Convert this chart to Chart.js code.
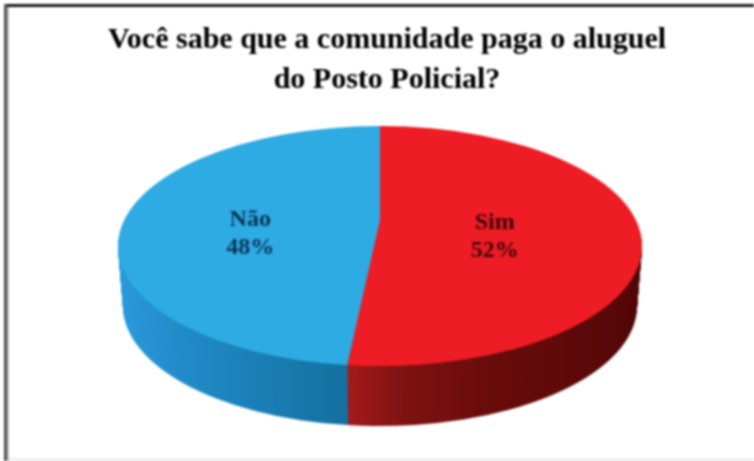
<!DOCTYPE html>
<html>
<head>
<meta charset="utf-8">
<script src="https://cdn.jsdelivr.net/npm/chart.js@4"></script>
<style>
    html, body { margin: 0; padding: 0; background: #fff; }
    #pie { display: block; filter: blur(0.8px); }
</style>
</head>
<body>
<canvas id="pie" width="754" height="461"></canvas>
<script>
// Chart values
const categories = ['Sim', 'Não'];
const seriesValues = [52, 48];
const titleLines = ['Você sabe que a comunidade paga o aluguel', 'do Posto Policial?'];
const topColors = ['#ee1c24', '#2dabe2'];
const labelColors = ['#3f060a', '#0a3558'];

// Side wall shading, left to right across the pie
const wallStops = [
    [[0.44, '#a31a1a'], [0.55, '#7d1212'], [0.7, '#6a0c0c'], [0.9, '#5c0909'], [1, '#500606']],
    [[0, '#2a98dc'], [0.15, '#1f88c4'], [0.44, '#14709f']]
];

// Where the squashed pie goes on the page
const pieX = 380, pieY = 246, pieW = 262, pieH = 120, pieDepth = 60;
const wallShrink = 5;   // the lower rim is a little narrower than the top
const apexLift = 26;    // perspective: the slices meet above the middle of the ellipse

// Draw the library's arcs flattened into an ellipse, with a stacked side wall
const pie3d = {
    id: 'pie3d',
    beforeDatasetsDraw(chart) {
        const ctx = chart.ctx;
        const arcs = chart.getDatasetMeta(0).data;
        const first = arcs[0];
        const R = first.outerRadius;

        function place(dy, w) {
            ctx.translate(pieX, pieY + dy);
            ctx.scale(w / R, pieH / R);
            ctx.translate(-first.x, -first.y);
        }

        const walls = arcs.map(function (arc, i) {
            const g = ctx.createLinearGradient(first.x - R, 0, first.x + R, 0);
            wallStops[i].forEach(function (s) { g.addColorStop(s[0], s[1]); });
            return g;
        });

        for (let d = pieDepth; d >= 1; d--) {
            arcs.forEach(function (arc, i) {
                const realOptions = arc.options;
                const wallOptions = Object.create(realOptions);
                wallOptions.backgroundColor = walls[i];
                wallOptions.borderColor = walls[i];
                arc.options = wallOptions;
                ctx.save();
                place(d, pieW - wallShrink * d / pieDepth);
                arc.draw(ctx);
                ctx.restore();
                arc.options = realOptions;
            });
        }

        arcs.forEach(function (arc) {
            ctx.save();
            place(0, pieW);
            arc.draw(ctx);
            ctx.restore();
        });

        // Move the meeting point of the slices up by filling the sliver under it
        ctx.save();
        ctx.fillStyle = topColors[0];
        ctx.beginPath();
        ctx.moveTo(pieX, pieY - apexLift);
        ctx.lineTo(pieX + 1, pieY);
        ctx.lineTo(pieX + Math.cos(first.endAngle) * pieW, pieY + Math.sin(first.endAngle) * pieH);
        ctx.closePath();
        ctx.fill();
        ctx.restore();

        // Slice labels (Sim, Não)
        const nudge = [[-16, -13], [1, -8]];
        ctx.save();
        ctx.font = 'bold 24px "Liberation Serif"';
        ctx.textAlign = 'center';
        ctx.textBaseline = 'middle';
        arcs.forEach(function (arc, i) {
            const c = arc.getCenterPoint();
            const x = pieX + (c.x - first.x) * pieW / R + nudge[i][0];
            const y = pieY + (c.y - first.y) * pieH / R + nudge[i][1];
            const total = seriesValues.reduce(function (a, b) { return a + b; }, 0);
            ctx.fillStyle = labelColors[i];
            ctx.fillText(categories[i], x, y - 14);
            ctx.fillText(Math.round(seriesValues[i] / total * 100) + '%', x, y + 14);
        });
        ctx.restore();

        // Picture frame
        ctx.save();
        ctx.fillStyle = '#1c1c1c';
        ctx.fillRect(7, 4, 747, 3);
        ctx.fillStyle = '#555';
        ctx.fillRect(4, 4, 3, 457);
        ctx.fillStyle = '#bbb';
        ctx.fillRect(7, 7, 2, 454);
        ctx.fillStyle = '#eee';
        ctx.fillRect(9, 458, 745, 3);
        ctx.restore();
        return false;
    }
};

new Chart(document.getElementById('pie'), {
    type: 'pie',
    data: {
        labels: categories,
        datasets: [{
            data: seriesValues,
            backgroundColor: topColors,
            borderWidth: 0
        }]
    },
    options: {
        responsive: false,
        animation: false,
        layout: { padding: { left: 20 } },
        plugins: {
            legend: { display: false },
            tooltip: { enabled: false },
            title: {
                display: true,
                text: titleLines,
                color: '#000',
                font: { family: '"Liberation Serif"', size: 30, weight: 'bold', lineHeight: 1.33 },
                padding: { top: 20, bottom: 0 }
            }
        }
    },
    plugins: [pie3d]
});
</script>
</body>
</html>
